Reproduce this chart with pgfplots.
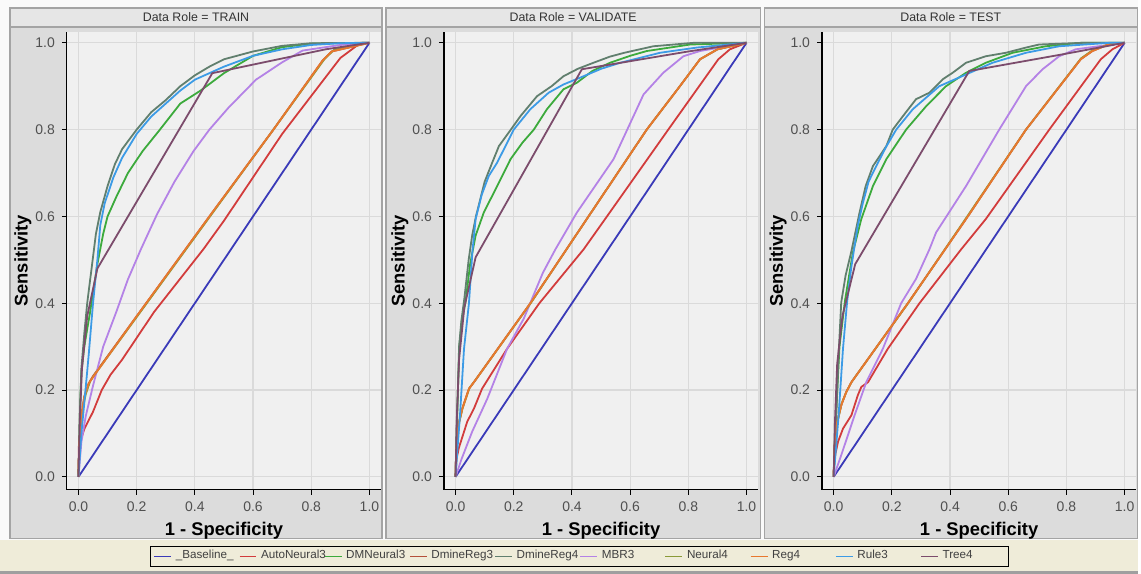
\documentclass[border=0pt]{standalone}
\usepackage{pgfplots}
\pgfplotsset{compat=1.18}
\usepackage{fontspec}
\setmainfont{Liberation Sans}

\definecolor{cBase}{HTML}{3A3AB8}
\definecolor{cAuto}{HTML}{D23C3C}
\definecolor{cDMN}{HTML}{3CAA3C}
\definecolor{cDR3}{HTML}{B4503A}
\definecolor{cDR4}{HTML}{617F6E}
\definecolor{cMBR}{HTML}{B482E6}
\definecolor{cNeu}{HTML}{8A9A38}
\definecolor{cReg}{HTML}{E8782E}
\definecolor{cRule}{HTML}{3C9BE6}
\definecolor{cTree}{HTML}{7C4C6C}
\definecolor{plotBg}{HTML}{F0F0F0}
\definecolor{gridCol}{HTML}{DADADA}
\definecolor{cellBg}{HTML}{DCDCDC}
\definecolor{cellEdge}{HTML}{A4A4A4}
\definecolor{headBg}{HTML}{E6E6E6}
\definecolor{legBand}{HTML}{EFECD9}
\definecolor{tickTxt}{HTML}{505050}

\newcommand{\lblfont}{\fontsize{9.2}{11}\selectfont\bfseries}

\begin{document}
\begin{tikzpicture}
\pgfplotsset{
  rocpanel/.style={
    scale only axis, width=157.5pt, height=229.5pt, anchor=south west,
    xmin=-0.04, xmax=1.04, ymin=-0.03, ymax=1.025,
    xtick={0,0.2,0.4,0.6,0.8,1.0}, ytick={0,0.2,0.4,0.6,0.8,1.0},
    /pgf/number format/fixed, /pgf/number format/fixed zerofill,
    /pgf/number format/precision=1, /pgf/number format/assume math mode=true,
    axis x line*=bottom, axis y line*=left,
    axis line style={black, line width=0.6pt, -},
    tick align=outside, major tick length=2.5pt,
    tick style={black, line width=0.5pt},
    tick label style={font=\fontsize{7}{8}\selectfont, text=tickTxt},
    grid=major, major grid style={gridCol, line width=0.6pt},
    axis background/.style={fill=plotBg},
    xlabel={1 - Specificity}, ylabel={Sensitivity},
    every axis x label/.style={at={(axis description cs:0.5,-0.09)}, anchor=center,
                               font=\lblfont},
    every axis y label/.style={at={(axis description cs:-0.14,0.5)}, anchor=center,
                               rotate=90, font=\lblfont},
  },
  sBase/.style={cBase, line width=0.9pt},
  sAuto/.style={cAuto, line width=0.9pt},
  sDMN/.style={cDMN, line width=0.9pt},
  sDR3/.style={cDR3, line width=0.9pt},
  sDR4/.style={cDR4, line width=0.9pt},
  sMBR/.style={cMBR, line width=0.9pt},
  sNeu/.style={cNeu, line width=0.9pt},
  sReg/.style={cReg, line width=0.9pt},
  sRule/.style={cRule, line width=0.9pt},
  sTree/.style={cTree, line width=0.9pt},
}

% ---------- frame, cells, headers (pixel units) ----------
\begin{scope}[x=0.5pt, y=-0.5pt]
\path[use as bounding box] (0,0) rectangle (1141,575);
\fill[white!96!gray] (0,0) rectangle (1141,575);
\fill[legBand] (0,541) rectangle (1141,572);
\fill[gray!75] (0,572) rectangle (1141,575);
\foreach \l/\r/\t in {10/383/TRAIN, 387/762/VALIDATE, 766/1140/TEST} {
  \filldraw[fill=cellBg, draw=cellEdge, line width=0.6pt] (\l,8) rectangle (\r,540);
  \filldraw[fill=headBg, draw=cellEdge, line width=0.6pt] (\l,8) rectangle (\r,27);
  \node[font=\fontsize{6.2}{7}\selectfont, text=black!80] at ({(\l+\r)/2},17.5) {Data Role = \t};
}
\end{scope}

% ============ TRAIN ============
\begin{axis}[rocpanel, at={(33.5pt,-245.5pt)}]
\addplot[sBase] coordinates {(0,0) (1,1)};
\addplot[sAuto] coordinates {(0,0) (0.001,0.07) (0.02,0.11) (0.05,0.15) (0.08,0.20) (0.11,0.235)
  (0.15,0.27) (0.26,0.38) (0.43,0.525) (0.5,0.59) (0.7,0.79) (0.9,0.965) (0.97,1.0) (1,1)};
\addplot[sDMN] coordinates {(0,0) (0.005,0.15) (0.01,0.24) (0.02,0.30) (0.04,0.38) (0.065,0.49)
  (0.085,0.56) (0.1,0.60) (0.13,0.645) (0.17,0.70) (0.22,0.75) (0.28,0.80) (0.35,0.86) (0.42,0.89)
  (0.46,0.91) (0.5,0.93) (0.6,0.97) (0.7,0.99) (0.8,0.998) (1,1)};
\addplot[sDR3] coordinates {(0,0) (0.003,0.08) (0.01,0.14) (0.02,0.185) (0.035,0.215) (0.05,0.232)
  (0.2,0.37) (0.45,0.60) (0.67,0.80) (0.84,0.96) (0.87,0.98) (1,1)};
\addplot[sDR4] coordinates {(0,0) (0.005,0.15) (0.01,0.25) (0.02,0.33) (0.03,0.40) (0.045,0.48)
  (0.06,0.56) (0.075,0.61) (0.1,0.67) (0.125,0.72) (0.15,0.755) (0.2,0.80) (0.25,0.84) (0.3,0.868)
  (0.35,0.90) (0.4,0.925) (0.45,0.945) (0.5,0.962) (0.6,0.98) (0.7,0.993) (0.8,0.999) (1,1)};
\addplot[sMBR] coordinates {(0,0) (0.01,0.08) (0.025,0.14) (0.05,0.21) (0.085,0.30) (0.13,0.38)
  (0.17,0.455) (0.215,0.525) (0.27,0.605) (0.33,0.68) (0.395,0.75) (0.45,0.80) (0.515,0.85)
  (0.61,0.915) (0.7,0.955) (0.77,0.982) (0.9,0.995) (1,1)};
\addplot[sNeu] coordinates {(0,0) (0.004,0.09) (0.012,0.15) (0.025,0.19) (0.04,0.22) (0.055,0.235)
  (0.2,0.368) (0.45,0.598) (0.67,0.80) (0.845,0.962) (0.88,0.985) (1,1)};
\addplot[sReg] coordinates {(0,0) (0.003,0.08) (0.01,0.14) (0.02,0.185) (0.035,0.215) (0.05,0.23)
  (0.2,0.37) (0.45,0.60) (0.67,0.80) (0.84,0.96) (0.87,0.98) (1,1)};
\addplot[sRule] coordinates {(0,0) (0.01,0.1) (0.02,0.17) (0.035,0.28) (0.05,0.40) (0.065,0.50)
  (0.075,0.58) (0.09,0.63) (0.12,0.69) (0.15,0.735) (0.2,0.79) (0.25,0.83) (0.3,0.86) (0.35,0.89)
  (0.4,0.915) (0.5,0.945) (0.6,0.97) (0.7,0.985) (0.8,0.995) (0.9,0.999) (1,1)};
\addplot[sTree] coordinates {(0,0) (0.004,0.12) (0.012,0.25) (0.03,0.37) (0.065,0.48) (0.46,0.93)
  (0.85,0.985) (1,1)};
\end{axis}

% ============ VALIDATE ============
\begin{axis}[rocpanel, at={(222.5pt,-245.5pt)},
    legend columns=10,
    legend style={at={(axis description cs:0.432,-0.145)}, anchor=center,
                  draw=black, line width=0.4pt, fill=none, text=black!75,
                  font=\fontsize{5.85}{6.5}\selectfont, inner xsep=1.5pt, inner ysep=0pt},
    legend image code/.code={\draw[#1, line width=0.6pt] (0pt,0pt) -- (8.5pt,0pt);},
]
\addplot[sBase] coordinates {(0,0) (1,1)};
\addlegendentry{\makebox[29.6pt][l]{\_Baseline\_}}
\addplot[sAuto] coordinates {(0,0) (0.003,0.04) (0.011,0.066) (0.04,0.127) (0.063,0.157)
  (0.091,0.203) (0.177,0.295) (0.288,0.40) (0.44,0.524) (0.514,0.594) (0.731,0.80) (0.903,0.962)
  (0.943,0.985) (1,1)};
\addlegendentry{\makebox[29.6pt][l]{AutoNeural3}}
\addplot[sDMN] coordinates {(0,0) (0.004,0.1) (0.008,0.2) (0.013,0.3) (0.022,0.36) (0.034,0.402)
  (0.05,0.49) (0.069,0.556) (0.097,0.609) (0.143,0.67) (0.189,0.732) (0.23,0.77) (0.269,0.8)
  (0.314,0.847) (0.371,0.893) (0.417,0.908) (0.47,0.935) (0.531,0.954) (0.6,0.97) (0.657,0.981)
  (0.806,0.996) (1,1)};
\addlegendentry{\makebox[29.6pt][l]{DMNeural3}}
\addplot[sDR3] coordinates {(0,0) (0.002,0.06) (0.01,0.12) (0.023,0.157) (0.046,0.203) (0.063,0.218)
  (0.257,0.40) (0.451,0.594) (0.657,0.80) (0.771,0.90) (0.84,0.962) (0.9,0.985) (1,1)};
\addlegendentry{\makebox[29.6pt][l]{DmineReg3}}
\addplot[sDR4] coordinates {(0,0) (0.003,0.1) (0.008,0.2) (0.012,0.3) (0.02,0.36) (0.03,0.41)
  (0.045,0.5) (0.057,0.556) (0.07,0.6) (0.1,0.68) (0.126,0.724) (0.149,0.762) (0.19,0.80)
  (0.223,0.831) (0.28,0.877) (0.33,0.9) (0.371,0.923) (0.42,0.94) (0.474,0.954) (0.53,0.968)
  (0.58,0.977) (0.68,0.992) (0.82,1.0) (1,1)};
\addlegendentry{\makebox[29.6pt][l]{DmineReg4}}
\addplot[sMBR] coordinates {(0,0) (0.02,0.04) (0.057,0.104) (0.109,0.18) (0.177,0.295) (0.234,0.364)
  (0.3,0.47) (0.343,0.524) (0.417,0.609) (0.543,0.732) (0.646,0.881) (0.714,0.931) (0.783,0.969)
  (0.84,0.981) (1,1)};
\addlegendentry{\makebox[29.6pt][l]{MBR3}}
\addplot[sNeu] coordinates {(0,0) (0.003,0.065) (0.012,0.125) (0.025,0.16) (0.048,0.205)
  (0.065,0.22) (0.258,0.40) (0.451,0.594) (0.657,0.80) (0.771,0.90) (0.84,0.962) (0.9,0.985) (1,1)};
\addlegendentry{\makebox[29.6pt][l]{Neural4}}
\addplot[sReg] coordinates {(0,0) (0.002,0.06) (0.01,0.12) (0.023,0.157) (0.046,0.203) (0.063,0.218)
  (0.257,0.40) (0.451,0.594) (0.657,0.80) (0.771,0.90) (0.84,0.962) (0.9,0.985) (1,1)};
\addlegendentry{\makebox[29.6pt][l]{Reg4}}
\addplot[sRule] coordinates {(0,0) (0.005,0.05) (0.015,0.14) (0.029,0.295) (0.046,0.40) (0.058,0.52)
  (0.069,0.594) (0.09,0.65) (0.114,0.693) (0.143,0.724) (0.2,0.8) (0.257,0.847) (0.32,0.885)
  (0.371,0.904) (0.44,0.923) (0.5,0.94) (0.566,0.954) (0.703,0.977) (0.829,0.989) (1,1)};
\addlegendentry{\makebox[29.6pt][l]{Rule3}}
\addplot[sTree] coordinates {(0,0) (0.004,0.13) (0.012,0.27) (0.03,0.39) (0.069,0.506) (0.434,0.939)
  (0.8,0.98) (1,1)};
\addlegendentry{\makebox[29.6pt][l]{Tree4}}
\end{axis}

% ============ TEST ============
\begin{axis}[rocpanel, at={(412pt,-245.5pt)}]
\addplot[sBase] coordinates {(0,0) (1,1)};
\addplot[sAuto] coordinates {(0,0) (0.002,0.04) (0.015,0.081) (0.032,0.111) (0.061,0.142)
  (0.083,0.188) (0.095,0.207) (0.118,0.218) (0.186,0.295) (0.295,0.40) (0.438,0.524) (0.523,0.594)
  (0.741,0.80) (0.918,0.962) (0.958,0.985) (1,1)};
\addplot[sDMN] coordinates {(0,0) (0.005,0.1) (0.01,0.17) (0.02,0.3) (0.038,0.402) (0.066,0.517)
  (0.095,0.594) (0.135,0.67) (0.181,0.732) (0.249,0.8) (0.318,0.854) (0.386,0.9) (0.455,0.931)
  (0.523,0.954) (0.615,0.977) (0.729,0.992) (0.85,1) (1,1)};
\addplot[sDR3] coordinates {(0,0) (0.003,0.07) (0.01,0.12) (0.026,0.165) (0.043,0.195) (0.061,0.218)
  (0.255,0.40) (0.455,0.594) (0.661,0.8) (0.849,0.962) (0.889,0.981) (0.94,0.995) (1,1)};
\addplot[sDR4] coordinates {(0,0) (0.004,0.08) (0.009,0.142) (0.018,0.295) (0.026,0.402) (0.041,0.464)
  (0.061,0.52) (0.089,0.609) (0.11,0.67) (0.135,0.716) (0.181,0.762) (0.203,0.8) (0.238,0.831)
  (0.283,0.87) (0.329,0.885) (0.375,0.916) (0.409,0.931) (0.455,0.954) (0.523,0.969) (0.592,0.977)
  (0.661,0.989) (0.706,0.996) (0.86,1) (1,1)};
\addplot[sMBR] coordinates {(0,0) (0.026,0.05) (0.072,0.142) (0.112,0.218) (0.169,0.295) (0.232,0.4)
  (0.283,0.456) (0.329,0.524) (0.352,0.563) (0.455,0.67) (0.569,0.8) (0.661,0.9) (0.718,0.939)
  (0.775,0.969) (0.832,0.985) (1,1)};
\addplot[sNeu] coordinates {(0,0) (0.004,0.075) (0.012,0.125) (0.028,0.17) (0.045,0.198)
  (0.063,0.22) (0.256,0.40) (0.455,0.596) (0.661,0.8) (0.85,0.964) (0.89,0.983) (0.94,0.995) (1,1)};
\addplot[sReg] coordinates {(0,0) (0.003,0.07) (0.01,0.12) (0.026,0.165) (0.043,0.195) (0.061,0.218)
  (0.255,0.40) (0.455,0.594) (0.661,0.8) (0.849,0.962) (0.889,0.981) (0.94,0.995) (1,1)};
\addplot[sRule] coordinates {(0,0) (0.017,0.142) (0.032,0.295) (0.046,0.402) (0.06,0.48) (0.07,0.524)
  (0.083,0.579) (0.1,0.63) (0.12,0.68) (0.141,0.709) (0.18,0.76) (0.215,0.8) (0.272,0.847)
  (0.363,0.9) (0.455,0.927) (0.546,0.954) (0.661,0.977) (0.775,0.992) (0.95,1) (1,1)};
\addplot[sTree] coordinates {(0,0) (0.004,0.12) (0.012,0.26) (0.03,0.37) (0.074,0.49) (0.466,0.935)
  (0.8,0.975) (1,1)};
\end{axis}
\end{tikzpicture}
\end{document}
